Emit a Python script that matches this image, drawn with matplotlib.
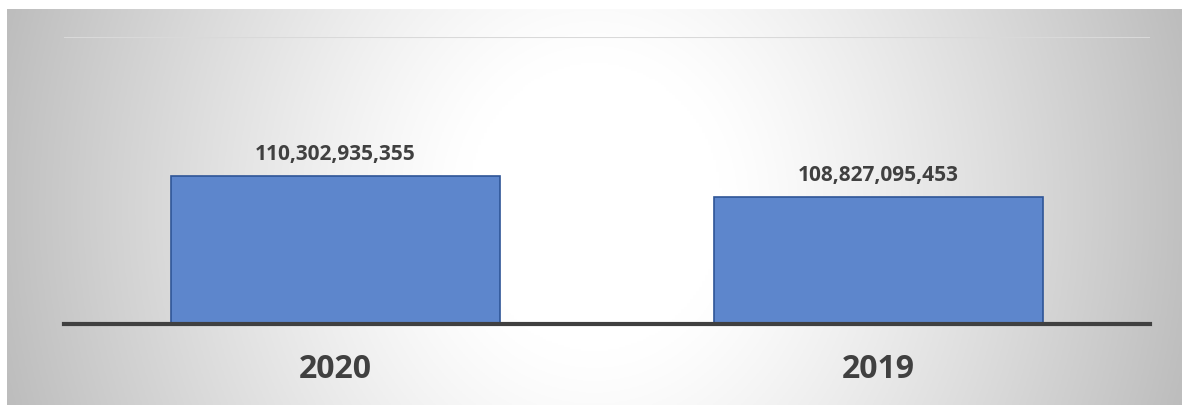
import numpy as np
import matplotlib.pyplot as plt

years = ['2020', '2019']
totals = [110302935355, 108827095453]

ymin, ymax = 100e9, 120e9
text_col = '#404040'

fig = plt.figure(figsize=(11.82, 4.06), dpi=100)
fig.patch.set_facecolor('white')

# gray panel, white in the middle and darker to the sides
bg = fig.add_axes([7 / 1182, 0, 1 - 7 / 1182, 396 / 406])
gx, gy = np.meshgrid(np.linspace(-1, 1, 400), np.linspace(-1, 1, 200))
r = np.sqrt(gx ** 2 + (0.3 * gy) ** 2)
d = np.clip((r - 0.22) / 0.78, 0, None)
shade = np.clip(255 - 62 * d ** 1.2, 188, 255) / 255.0
bg.imshow(np.dstack([shade, shade, shade]), aspect='auto', extent=[0, 1, 0, 1])
bg.set_axis_off()

ax = fig.add_axes([64 / 1182, 81 / 406, 1086 / 1182, 287 / 406])
ax.patch.set_alpha(0)
bars = ax.bar(years, totals, width=0.606, color='#5d86cc', edgecolor='#2f5597',
              linewidth=1.2, zorder=2)
ax.set_ylim(ymin, ymax)
ax.set_xlim(-0.5, 1.5)

ax.set_yticks([ymax])
ax.yaxis.grid(True, color='#d9d9d9', linewidth=1.5, zorder=0)
ax.tick_params(axis='y', length=0, labelleft=False)
ax.tick_params(axis='x', length=0, pad=20, labelsize=23, labelcolor=text_col)
for lbl in ax.get_xticklabels():
    lbl.set_fontweight('bold')
    lbl.set_family('Open Sans')

for s in ['top', 'right', 'left']:
    ax.spines[s].set_visible(False)
ax.spines['bottom'].set_color(text_col)
ax.spines['bottom'].set_linewidth(3)
ax.spines['bottom'].set_zorder(3)

ax.bar_label(bars, labels=[f'{v:,}' for v in totals], padding=9, fontsize=15,
             fontweight='bold', color=text_col, family='Open Sans')

fig.savefig('out.png', dpi=100)
